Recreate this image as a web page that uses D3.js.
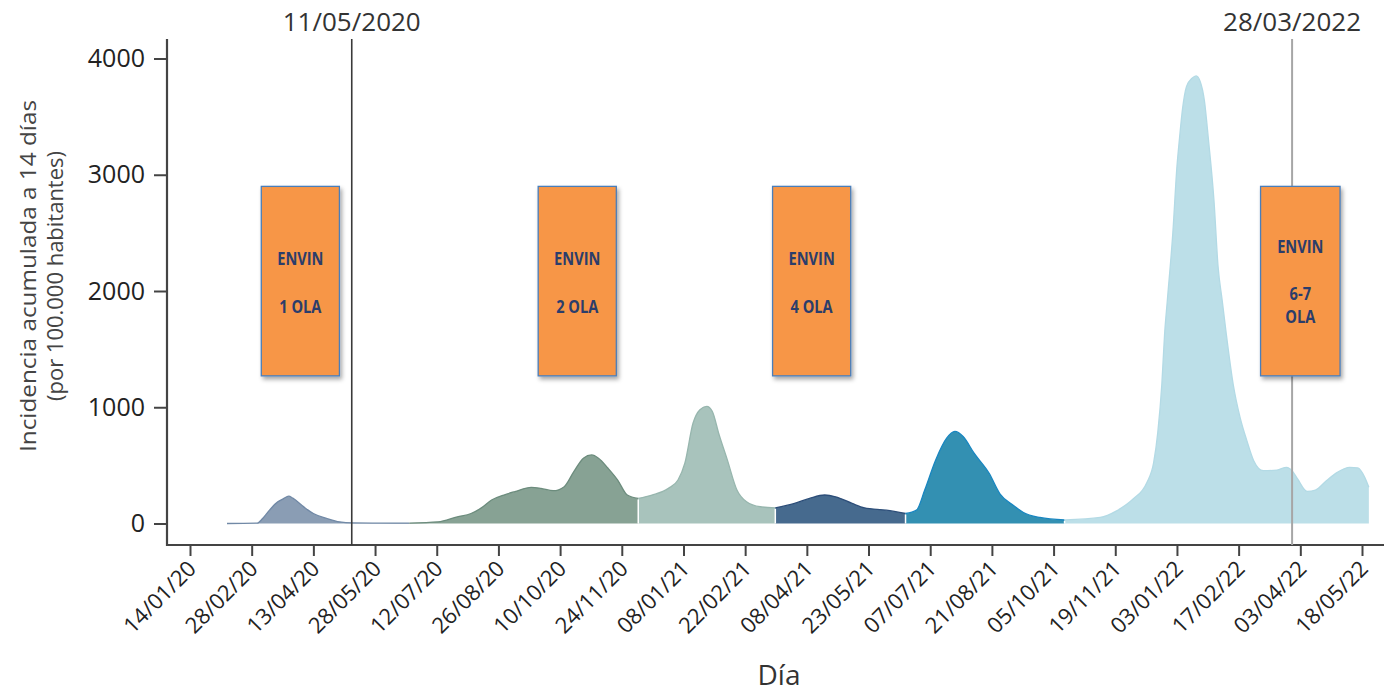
<!DOCTYPE html>
<html><head><meta charset="utf-8">
<script src="https://cdn.jsdelivr.net/npm/d3@7"></script>
<style>
body{margin:0;background:#fff}
svg{display:block}
text{font-family:"Open Sans",sans-serif}
</style>
</head><body>
<svg id="c" width="1384" height="692"></svg>
<script>
// ---------- DATA ----------
const fechas = [
 "2020-02-10","2020-03-03","2020-03-07","2020-03-12","2020-03-18","2020-03-22","2020-03-26","2020-03-29",
 "2020-04-06","2020-04-13","2020-04-23","2020-05-02","2020-05-12","2020-06-01","2020-06-22",
 "2020-07-13","2020-07-27","2020-08-06","2020-08-13","2020-08-21","2020-08-30","2020-09-07","2020-09-19",
 "2020-09-26","2020-10-05","2020-10-13","2020-10-20","2020-10-27","2020-11-02","2020-11-07","2020-11-14",
 "2020-11-21","2020-11-28","2020-12-06",
 "2020-12-16","2020-12-28","2021-01-04","2021-01-09","2021-01-15","2021-01-20","2021-01-25","2021-01-29",
 "2021-02-03","2021-02-09","2021-02-16","2021-02-23","2021-03-05","2021-03-16",
 "2021-03-30","2021-04-10","2021-04-21","2021-04-29","2021-05-11","2021-05-20","2021-06-05","2021-06-19",
 "2021-06-27","2021-07-03","2021-07-11","2021-07-19","2021-07-25","2021-07-31","2021-08-08","2021-08-19",
 "2021-08-27","2021-09-06","2021-09-13","2021-09-25","2021-10-13",
 "2021-11-08","2021-11-20","2021-12-02","2021-12-12","2021-12-17","2021-12-20","2021-12-23","2021-12-25",
 "2021-12-27","2021-12-31","2022-01-03","2022-01-05","2022-01-07","2022-01-10","2022-01-14","2022-01-17",
 "2022-01-20","2022-01-23","2022-01-26","2022-01-30","2022-02-02","2022-02-05","2022-02-08","2022-02-13",
 "2022-02-18","2022-02-23","2022-02-28","2022-03-07","2022-03-17","2022-03-24","2022-03-28","2022-04-01",
 "2022-04-08","2022-04-14","2022-04-22","2022-04-30","2022-05-09","2022-05-15","2022-05-20","2022-05-23"
];
const incidencia = [
 0,3,43,115,186,212,235,218,
 143,86,43,14,5,3,4,
 14,58,86,130,202,245,274,311,
 302,282,317,446,562,590,562,475,
 374,245,216,
 245,302,374,518,864,979,1008,965,
 763,547,288,187,144,135,
 173,216,245,230,173,135,115,86,
 115,288,547,734,792,749,605,432,
 253,153,95,52,30,
 52,109,210,351,523,782,1202,1633,
 1920,2500,3070,3330,3560,3760,3830,3850,
 3800,3640,3300,2780,2210,1920,1630,1200,
 915,713,540,454,460,483,454,383,
 276,288,368,440,483,478,397,311
];
// fechas donde cambia el color de la ola
const cortes = ["2020-06-22","2020-12-06","2021-03-16","2021-06-19","2021-10-13"];
const coloresRelleno = ["#8a9db4","#87a294","#a8c3bc","#466a8e","#3390b2","#bcdfe8"];
const coloresBorde   = ["#7189a6","#6c8c7d","#97b6ae","#2d4e79","#1986c0","#b3dae5"];

const ticksX = ["2020-01-14","2020-02-28","2020-04-13","2020-05-28","2020-07-12","2020-08-26","2020-10-10",
 "2020-11-24","2021-01-08","2021-02-22","2021-04-08","2021-05-23","2021-07-07","2021-08-21","2021-10-05",
 "2021-11-19","2022-01-03","2022-02-17","2022-04-03","2022-05-18"];
const ticksY = [0,1000,2000,3000,4000];

const hitoFechas = ["2020-05-11","2022-03-28"];
const hitoEtiquetas = ["11/05/2020","28/03/2022"];

const envinInicio = ["2020-03-06","2020-09-24","2021-03-14","2022-03-05"];
const envinFin    = ["2020-05-02","2020-11-20","2021-05-10","2022-05-02"];
const envinSup = 2900, envinInf = 1270;
const envinTextos = [["ENVIN","1 OLA"],["ENVIN","2 OLA"],["ENVIN","4 OLA"],["ENVIN","6-7","OLA"]];

// ---------- CHART ----------
const parse = d3.utcParse("%Y-%m-%d");
const svg = d3.select("#c");
const x = d3.scaleUtc().domain([parse("2020-01-14"), parse("2022-05-18")]).range([190, 1362]);
const y = d3.scaleLinear().domain([0, 4000]).range([523.5, 58.5]);

const defs = svg.append("defs");
const f = defs.append("filter").attr("id","sh").attr("x","-20%").attr("y","-20%").attr("width","150%").attr("height","150%");
f.append("feDropShadow").attr("dx",2).attr("dy",3).attr("stdDeviation",2.2).attr("flood-color","#000").attr("flood-opacity",0.35);

const pts = fechas.map((d,i)=>({d:parse(d), v:incidencia[i]}));
const idxCortes = cortes.map(c => fechas.indexOf(c));
const limites = [0, ...idxCortes, pts.length-1];

const area = d3.area().x(p=>x(p.d)).y0(y(0)).y1(p=>y(p.v)).curve(d3.curveMonotoneX);
const linea = d3.line().x(p=>x(p.d)).y(p=>y(p.v)).curve(d3.curveMonotoneX);

for (let s=0; s<limites.length-1; s++){
  const seg = pts.slice(limites[s], limites[s+1]+1);
  svg.append("path").attr("d", area(seg)).attr("fill", coloresRelleno[s]);
  svg.append("path").attr("d", linea(seg)).attr("fill","none").attr("stroke", coloresBorde[s]).attr("stroke-width",1.3);
}
// white separators between waves
idxCortes.slice(1).forEach(i=>{
  svg.append("line").attr("x1",x(pts[i].d)).attr("x2",x(pts[i].d))
    .attr("y1",y(0)).attr("y2",y(pts[i].v)+1).attr("stroke","#fff").attr("stroke-width",1.5);
});

// axes
const axX = d3.axisBottom(x).tickValues(ticksX.map(parse)).tickFormat(d3.utcFormat("%d/%m/%y")).tickSize(11).tickSizeOuter(0);
const gx = svg.append("g").attr("transform","translate(0,545)").call(axX);
gx.select(".domain").remove();
gx.selectAll(".tick line").attr("stroke","#444").attr("stroke-width",2);
gx.selectAll(".tick text").attr("x",0).attr("y",0).attr("dy",0)
  .attr("transform","translate(7,25) rotate(-45)").style("text-anchor","end")
  .attr("font-size",22).attr("fill","#222").style("font-family","'Open Sans',sans-serif");
svg.append("line").attr("x1",167).attr("x2",1384).attr("y1",545).attr("y2",545).attr("stroke","#444").attr("stroke-width",2.2);

const axY = d3.axisLeft(y).tickValues(ticksY).tickFormat(d3.format("d")).tickSize(13).tickPadding(9);
const gy = svg.append("g").attr("transform","translate(167,0)").call(axY);
gy.select(".domain").remove();
gy.selectAll(".tick line").attr("stroke","#444").attr("stroke-width",2);
gy.selectAll(".tick text").attr("font-size",25).attr("fill","#222").style("font-family","'Open Sans',sans-serif");
svg.append("line").attr("x1",167).attr("x2",167).attr("y1",39).attr("y2",546).attr("stroke","#444").attr("stroke-width",2.2);

// milestone lines
const hitoColor = ["#3a3a3a","#a6a6a6"];
const hitoAncho = [1.6,2];
hitoFechas.forEach((h,i)=>{
  const hx = x(parse(h));
  svg.append("line").attr("x1",hx).attr("x2",hx).attr("y1",39).attr("y2",545)
    .attr("stroke",hitoColor[i]).attr("stroke-width",hitoAncho[i]);
  svg.append("text").attr("x",hx).attr("y",31).attr("text-anchor","middle")
    .attr("font-size",26).attr("fill","#333").text(hitoEtiquetas[i]);
});

// ENVIN boxes
const offs2 = [79,127], offs3 = [67,114,137];
envinInicio.forEach((d,i)=>{
  const x0 = x(parse(d)), x1 = x(parse(envinFin[i]));
  const y0 = y(envinSup), y1 = y(envinInf);
  svg.append("rect").attr("x",x0).attr("y",y0).attr("width",x1-x0).attr("height",y1-y0)
    .attr("fill","#f79646").attr("stroke","#4a7ebb").attr("stroke-width",1.3).attr("filter","url(#sh)");
  const offs = envinTextos[i].length===3 ? offs3 : offs2;
  envinTextos[i].forEach((t,j)=>{
    svg.append("text").attr("transform",`translate(${(x0+x1)/2},${y0+offs[j]}) scale(0.86,1)`)
      .attr("text-anchor","middle")
      .attr("font-size",17).attr("font-weight",700).attr("fill","#2b3d6b").text(t);
  });
});

// axis titles
svg.append("text").attr("x",779).attr("y",685).attr("text-anchor","middle").attr("font-size",28).attr("fill","#333").text("Día");
const gt = svg.append("g").attr("transform","translate(0,276) rotate(-90)");
gt.append("text").attr("x",0).attr("y",36).attr("text-anchor","middle").attr("font-size",22).attr("fill","#444")
  .attr("textLength",352).attr("lengthAdjust","spacingAndGlyphs").text("Incidencia acumulada a 14 días");
gt.append("text").attr("x",0).attr("y",63).attr("text-anchor","middle").attr("font-size",22).attr("fill","#444")
  .attr("textLength",250).attr("lengthAdjust","spacingAndGlyphs").text("(por 100.000 habitantes)");
</script>
</body></html>
